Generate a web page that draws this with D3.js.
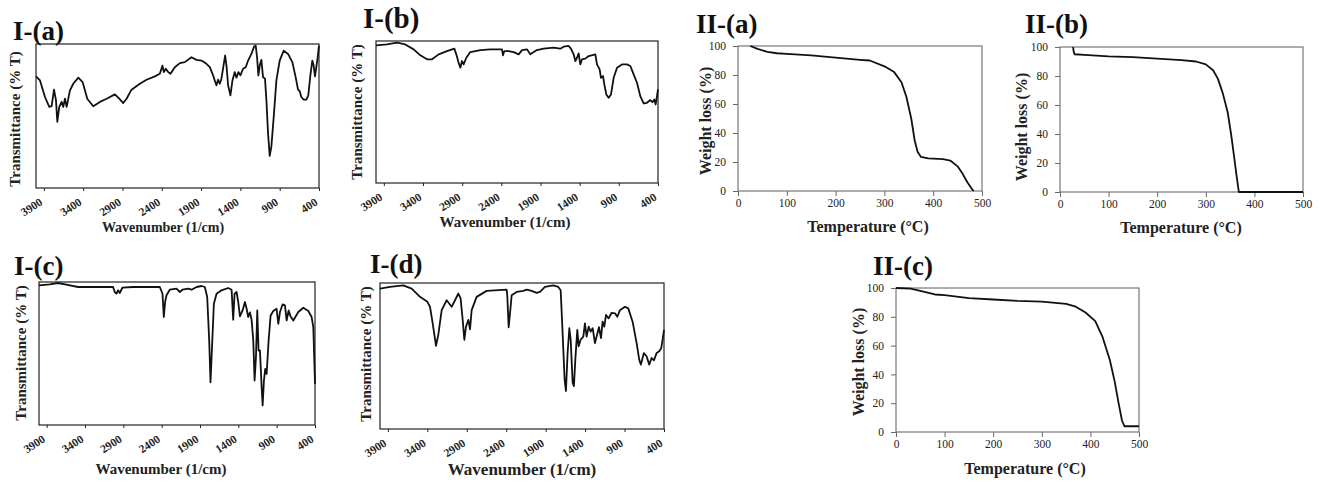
<!DOCTYPE html>
<html lang="en">
<head>
<meta charset="utf-8">
<title>FTIR and TGA</title>
<script src="https://cdn.jsdelivr.net/npm/d3@7"></script>
<style>
  body { margin: 0; background: #fff; }
  text { font-family: "Liberation Serif", "Times New Roman", serif; }
</style>
</head>
<body>
<svg id="fig" width="1320" height="484"></svg>
<script>
// tick labels
const wnTicks = [3900, 3400, 2900, 2400, 1900, 1400, 900, 400];
const tempTicks = [0, 100, 200, 300, 400, 500];
const wlTicks = [0, 20, 40, 60, 80, 100];

// FTIR spectra: [wavenumber, transmittance (relative %)]
const irA = [[4000,77.5],[3949,74.7],[3886,63.2],[3831,56.3],[3801,56.8],[3771,68.3],[3746,61],[3729,46],[3704,56.3],
  [3674,59.8],[3653,56.3],[3632,62],[3610,56.3],[3568,67.8],[3526,72.4],[3462,76.6],[3407,73.6],[3348,62],[3272,56.8],
  [3187,59.8],[3102,62],[2996,65],[2941,62],[2890,59],[2848,62],[2785,68.3],[2679,72.4],[2594,75.2],[2488,77.5],
  [2425,79.3],[2391,85],[2374,80.5],[2348,82.8],[2319,80.5],[2289,79.3],[2234,83.9],[2170,86.7],[2107,87.4],[2022,90.8],
  [1959,89],[1895,88.5],[1832,86.2],[1789,83.9],[1747,78.2],[1726,74.7],[1705,71.3],[1684,75.2],[1662,72.4],[1641,75.9],
  [1611,86.2],[1594,92],[1577,85],[1556,71.3],[1527,64.4],[1501,74.7],[1472,80.5],[1450,76.6],[1425,80.5],[1400,78.2],
  [1366,82.8],[1332,83.9],[1302,88.5],[1260,93.1],[1226,98.2],[1205,98.9],[1188,90.8],[1171,78.2],[1154,85],[1133,89],
  [1112,77],[1087,75.9],[1069,61],[1048,37.9],[1027,22.3],[1006,28.7],[976,49.4],[942,74.7],[900,88.5],[849,95.4],
  [794,93.1],[739,87.4],[697,77],[667,68.3],[646,67.4],[625,63.2],[595,61.4],[561,61.4],[536,64.4],[510,78.2],
  [485,88.5],[468,85],[451,77.5],[434,83.9],[417,90.8],[400,98.9]];

const irB = [[4000,96.9],[3860,97.6],[3732,98.8],[3626,97.6],[3519,94.1],[3434,89.9],[3349,87.1],[3285,87.1],[3200,90.6],
  [3094,92.9],[3000,94.6],[2975,90.6],[2945,84.7],[2923,81.2],[2902,85.9],[2881,83.5],[2847,88.2],[2796,92.2],[2668,93.6],
  [2541,94.1],[2392,94.1],[2379,89.9],[2362,92.9],[2307,92.9],[2243,92.2],[2179,90.6],[2136,93.6],[2072,94.1],[2030,90.6],
  [1987,92.2],[1945,93.6],[1860,94.6],[1732,95.3],[1647,94.6],[1604,96],[1541,96.5],[1511,94.6],[1477,90.6],[1455,85.9],
  [1434,88.2],[1413,91.3],[1392,83.5],[1370,87.1],[1328,87.6],[1285,89.4],[1200,90.6],[1179,83.5],[1145,80],[1128,74.1],
  [1102,75.3],[1085,69.4],[1060,62.4],[1030,60],[1000,62.4],[966,74.1],[923,81.2],[860,83.5],[796,83.5],[753,82.4],
  [711,76.5],[668,70.6],[626,61.2],[583,56],[541,56.5],[498,58.4],[472,56.9],[447,58.8],[430,55.3],[413,61.2],[400,65.9]];

const irC = [[4000,97.7],[3861,98.4],[3752,99.3],[3643,98.1],[3491,96.5],[3208,96.5],[3034,96.5],[3012,93],[2990,91.8],
  [2969,94.2],[2947,92.3],[2912,96],[2773,96.5],[2424,96.5],[2389,91.8],[2372,75.5],[2355,86],[2337,90.7],[2294,94.6],
  [2207,95.3],[2163,93],[2128,94.6],[2054,95.3],[2011,94.6],[1945,96.5],[1880,97.2],[1837,96.5],[1806,89.5],[1780,59.1],
  [1763,29.9],[1745,52.1],[1719,84.8],[1684,91.8],[1619,94.2],[1532,95.8],[1488,94.6],[1467,73.6],[1449,91.8],[1423,93],
  [1401,86],[1379,75.9],[1345,80.1],[1314,86],[1292,81.3],[1271,75.5],[1249,78.7],[1227,73.6],[1205,59.1],[1188,31.1],
  [1170,47.4],[1153,80.1],[1136,52.1],[1118,52.1],[1096,26.4],[1083,13.6],[1066,31.1],[1049,39.3],[1031,35.7],[1005,59.1],
  [979,76.6],[944,79.7],[901,81.3],[879,70.8],[857,79],[823,84.3],[792,83.6],[770,73.1],[744,80.1],[718,75.9],
  [683,73.1],[618,79],[553,82],[487,79.7],[444,75.5],[422,68.5],[400,28.7]];

const irD = [[4000,96.2],[3873,97.3],[3704,98.4],[3599,96.2],[3493,90.5],[3400,87.1],[3366,83.7],[3332,72.4],[3290,57],
  [3261,64.5],[3218,81.4],[3155,88.2],[3092,83.7],[3049,88.2],[3007,92.8],[2978,89.4],[2952,74.7],[2931,61.1],[2910,70.1],
  [2880,74.7],[2859,68.3],[2838,81.4],[2775,90.5],[2648,94.6],[2395,95.5],[2387,91.6],[2369,69.7],[2352,79.2],[2331,91.6],
  [2268,93.9],[2183,94.6],[2141,95.5],[2078,94.6],[2014,93.2],[1972,93.9],[1909,97.3],[1803,98.4],[1740,97.3],[1710,95],
  [1685,65.6],[1660,33.9],[1643,26],[1622,52],[1600,69],[1583,61.1],[1558,31.7],[1542,29.4],[1524,47.5],[1499,67.9],
  [1482,56.6],[1457,61.1],[1423,63.3],[1402,72.4],[1381,63.3],[1355,70.1],[1330,66.7],[1304,69],[1275,58.8],[1254,63.3],
  [1224,69.7],[1199,62.2],[1178,73.5],[1157,70.1],[1135,78.1],[1102,75.8],[1064,79.6],[1021,79.2],[992,76.9],[958,81.4],
  [895,83.7],[853,82.6],[798,73.5],[747,58.8],[714,47.5],[693,44.1],[655,52],[621,49.8],[587,44.1],[557,48.6],
  [527,47.1],[494,52],[460,53.2],[435,55.4],[418,61.1],[400,67.9]];

// TGA curves: [temperature (°C), weight (%)]
const tgaA = [[25,100],[40,98],[60,96],[80,95],[100,94.5],[150,93.5],[200,92],[250,90.5],[270,90],[300,86],[320,82],
  [335,75],[345,65],[355,50],[362,35],[368,27],[375,23.5],[390,22.5],[420,22],[435,21],[450,17],[460,12],[470,6],
  [478,2],[483,0]];
const tgaB = [[27,100],[28,97],[30,95],[50,94.5],[100,93.5],[150,93],[200,92],[250,91],[280,90],[300,88],[315,84],
  [325,78],[335,68],[345,55],[352,40],[358,25],[363,12],[368,0],[500,0]];
const tgaC = [[0,100],[30,99.5],[50,98],[80,95.5],[100,95],[150,93],[200,92],[250,91],[300,90.5],[350,89],[370,87],
  [390,83],[410,77],[425,66],[440,50],[450,35],[458,20],[465,8],[470,4],[480,4],[500,4]];

const panels = [
  {name: 'I-(a)', kind: 'ir', data: irA, box: [36, 44, 283, 144], title: [13, 40, 27], xl: [163, 232, 14], yl: [15, 119, 15]},
  {name: 'I-(b)', kind: 'ir', data: irB, box: [376, 41, 282, 142], title: [363, 28, 29], xl: [505, 227, 15], yl: [357, 112, 15]},
  {name: 'I-(c)', kind: 'ir', data: irC, box: [39, 282, 276, 143], title: [14, 275, 27], xl: [161, 474, 15], yl: [21, 353, 15]},
  {name: 'I-(d)', kind: 'ir', data: irD, box: [380, 283, 284, 146], title: [370, 273, 27], xl: [522, 475, 17], yl: [366, 354, 15]},
  {name: 'II-(a)', kind: 'tga', data: tgaA, box: [738, 46, 244, 145], title: [696, 33, 27], xl: [868, 232, 16], yl: [705, 121, 16]},
  {name: 'II-(b)', kind: 'tga', data: tgaB, box: [1060, 47, 243, 145], title: [1025, 33, 27], xl: [1181, 233, 16], yl: [1021, 127, 16]},
  {name: 'II-(c)', kind: 'tga', data: tgaC, box: [896, 288, 243, 144], title: [873, 275, 27], xl: [1025, 474, 16], yl: [858, 362, 16]}
];

const serif = '"Liberation Serif", "Times New Roman", serif';
const svg = d3.select('#fig');

panels.forEach(p => {
  const [bx, by, bw, bh] = p.box;
  const g = svg.append('g');
  const ir = p.kind === 'ir';

  const x = d3.scaleLinear()
    .domain(ir ? [4000, 400] : [0, 500])
    .range([bx, bx + bw]);
  const y = d3.scaleLinear().domain([0, 100]).range([by + bh, by]);

  if (ir) {
    const ax = g.append('g')
      .attr('transform', `translate(0,${by + bh})`)
      .call(d3.axisBottom(x).tickValues(wnTicks).tickSize(3).tickSizeOuter(0).tickFormat(d3.format('d')));
    ax.select('.domain').remove();
    ax.selectAll('line').attr('stroke', '#222');
    ax.selectAll('text')
      .attr('y', 0).attr('dy', 0)
      .attr('transform', 'translate(-1,16) rotate(-33)')
      .style('text-anchor', 'end')
      .style('font-family', serif)
      .style('font-size', '11.5px')
      .style('font-weight', 'bold')
      .attr('fill', '#222');
  } else {
    const axb = g.append('g')
      .attr('transform', `translate(0,${by + bh})`)
      .call(d3.axisBottom(x).tickValues(tempTicks).tickSize(5).tickPadding(3).tickSizeOuter(0));
    const axl = g.append('g')
      .attr('transform', `translate(${bx},0)`)
      .call(d3.axisLeft(y).tickValues(wlTicks).tickSize(5).tickPadding(7).tickSizeOuter(0));
    [axb, axl].forEach(a => {
      a.select('.domain').remove();
      a.selectAll('line').attr('stroke', '#666');
      a.selectAll('text')
        .style('font-family', serif)
        .style('font-size', '11.5px')
        .attr('fill', '#222');
    });
  }

  // frame
  g.append('rect')
    .attr('x', bx).attr('y', by).attr('width', bw).attr('height', bh)
    .attr('fill', 'none')
    .attr('stroke', ir ? '#222' : '#777')
    .attr('stroke-width', 1.2);

  // curve
  const line = d3.line().x(d => x(d[0])).y(d => y(d[1]));
  g.append('path')
    .datum(p.data)
    .attr('d', line)
    .attr('fill', 'none')
    .attr('stroke', '#111')
    .attr('stroke-width', 1.8)
    .attr('stroke-linejoin', 'round');

  // panel title
  g.append('text')
    .attr('x', p.title[0]).attr('y', p.title[1])
    .style('font-family', serif)
    .style('font-size', p.title[2] + 'px')
    .style('font-weight', 'bold')
    .attr('fill', '#111')
    .text(p.name);

  // axis titles
  g.append('text')
    .attr('x', p.xl[0]).attr('y', p.xl[1])
    .attr('text-anchor', 'middle')
    .style('font-family', serif)
    .style('font-size', p.xl[2] + 'px')
    .style('font-weight', 'bold')
    .attr('fill', '#222')
    .text(ir ? 'Wavenumber (1/cm)' : 'Temperature (°C)');

  g.append('text')
    .attr('transform', `translate(${p.yl[0]},${p.yl[1]}) rotate(-90)`)
    .attr('dy', '0.35em')
    .attr('text-anchor', 'middle')
    .style('font-family', serif)
    .style('font-size', p.yl[2] + 'px')
    .style('font-weight', 'bold')
    .attr('fill', '#222')
    .text(ir ? 'Transmittance (% T)' : 'Weight loss (%)');
});
</script>
</body>
</html>
